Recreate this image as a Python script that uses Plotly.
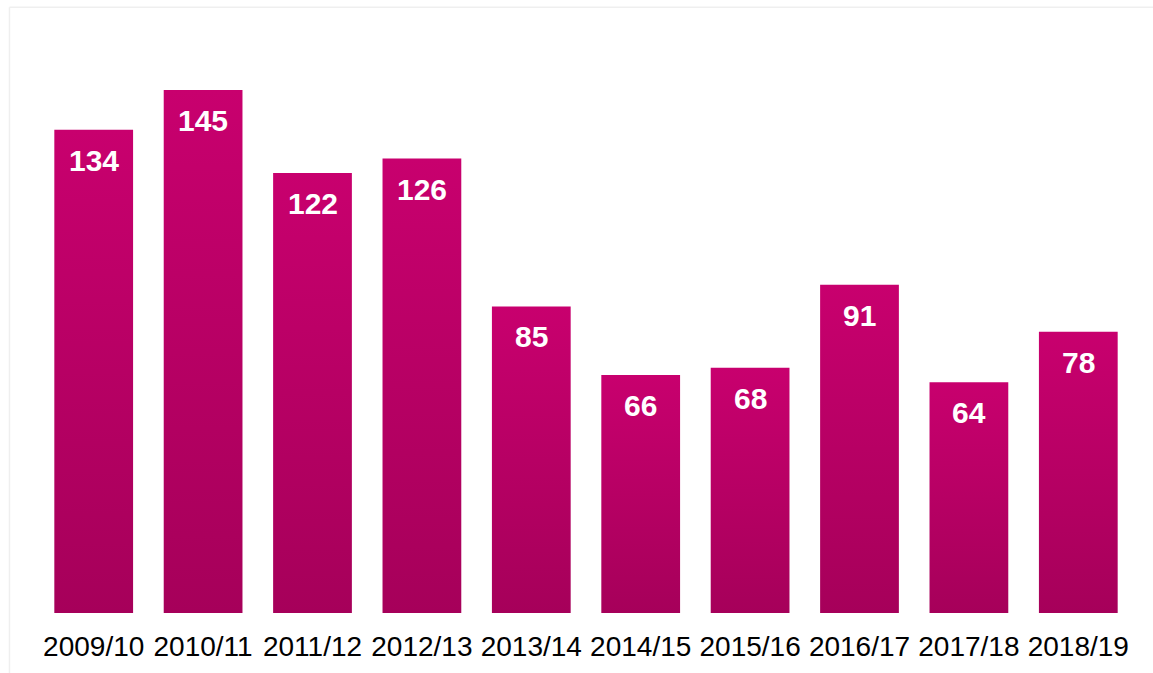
import plotly.graph_objects as go

categories = ["2009/10", "2010/11", "2011/12", "2012/13", "2013/14",
              "2014/15", "2015/16", "2016/17", "2017/18", "2018/19"]
values = [134, 145, 122, 126, 85, 66, 68, 91, 64, 78]

BAR_W = 0.72
TOP_COLOR = "#C8006E"
BOTTOM_COLOR = "#A6005A"

fig = go.Figure()
for i, v in enumerate(values):
    x0, x1 = i - BAR_W / 2, i + BAR_W / 2
    fig.add_trace(go.Scatter(
        x=[x0, x1, x1, x0, x0], y=[0, 0, v, v, 0],
        mode="lines", line=dict(width=0), fill="toself",
        fillgradient=dict(type="vertical",
                          colorscale=[[0, BOTTOM_COLOR], [1, TOP_COLOR]]),
        hoverinfo="skip", showlegend=False,
    ))
    fig.add_annotation(
        x=i, y=v, xref="x", yref="y", text=f"<b>{v}</b>", showarrow=False,
        yanchor="top", yshift=-12,
        font=dict(family="Liberation Sans, Arial, sans-serif", size=30, color="white"),
    )

# light frame
fig.add_shape(type="line", xref="paper", yref="paper",
              x0=-0.027, x1=1.05, y0=1.050, y1=1.050,
              line=dict(color="#EFEFEF", width=1.5))
fig.add_shape(type="line", xref="paper", yref="paper",
              x0=-0.027, x1=-0.027, y0=1.050, y1=-0.2,
              line=dict(color="#EFEFEF", width=1.5))

fig.update_layout(
    width=1153, height=673,
    margin=dict(l=39, r=20, t=36, b=60),
    paper_bgcolor="white", plot_bgcolor="white",
    font=dict(family="Liberation Sans, Arial, sans-serif", color="black"),
    xaxis=dict(range=[-0.5, 9.5], tickmode="array", tickvals=list(range(len(categories))),
               ticktext=categories, showgrid=False, zeroline=False, showline=False,
               ticks="", ticklabelstandoff=14, tickfont=dict(size=28, color="black")),
    yaxis=dict(range=[0, 160], visible=False, showgrid=False, zeroline=False),
)

fig.write_html("out.html", config={"displayModeBar": False},
               post_script="document.body.style.margin='0';document.body.style.overflow='hidden';")
